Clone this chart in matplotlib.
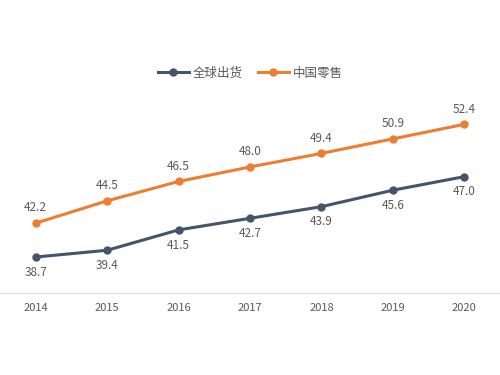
import matplotlib.pyplot as plt

plt.rcParams['font.family'] = ['Noto Sans CJK SC', 'DejaVu Sans']

years = ["2014", "2015", "2016", "2017", "2018", "2019", "2020"]
global_ship = [38.7, 39.4, 41.5, 42.7, 43.9, 45.6, 47.0]
china_retail = [42.2, 44.5, 46.5, 48.0, 49.4, 50.9, 52.4]

NAVY = "#44546A"
ORANGE = "#ED7D31"
GRAY = "#595959"

fig = plt.figure(figsize=(5, 3.75), dpi=100)
ax = fig.add_axes([0, 0.219, 1, 0.514])
x = range(len(years))

ax.plot(x, global_ship, color=NAVY, lw=2.2, marker="o", ms=5, label="全球出货")
ax.plot(x, china_retail, color=ORANGE, lw=2.2, marker="o", ms=5, label="中国零售")

for i, v in enumerate(global_ship):
    ax.annotate(f"{v:.1f}", (i, v), xytext=(0, -11), textcoords="offset points",
                ha="center", va="center", fontsize=8.5, color=GRAY)
for i, v in enumerate(china_retail):
    ax.annotate(f"{v:.1f}", (i, v), xytext=(0, 11), textcoords="offset points",
                ha="center", va="center", fontsize=8.5, color=GRAY)

ax.set_xlim(-0.5, 6.5)
ax.set_ylim(35, 54.9)
ax.set_xticks(list(x))
ax.set_xticklabels(years, fontsize=8, color=GRAY)
ax.tick_params(axis="x", length=0, pad=7)
ax.set_yticks([])
for s in ["top", "right", "left"]:
    ax.spines[s].set_visible(False)
ax.spines["bottom"].set_color("#D9D9D9")

fig.legend(loc="center", bbox_to_anchor=(0.5, 0.805), ncol=2, frameon=False,
           fontsize=9, labelcolor=GRAY, handlelength=2.5, columnspacing=1.2,
           handletextpad=0.3)

fig.savefig("out.png", dpi=100)
